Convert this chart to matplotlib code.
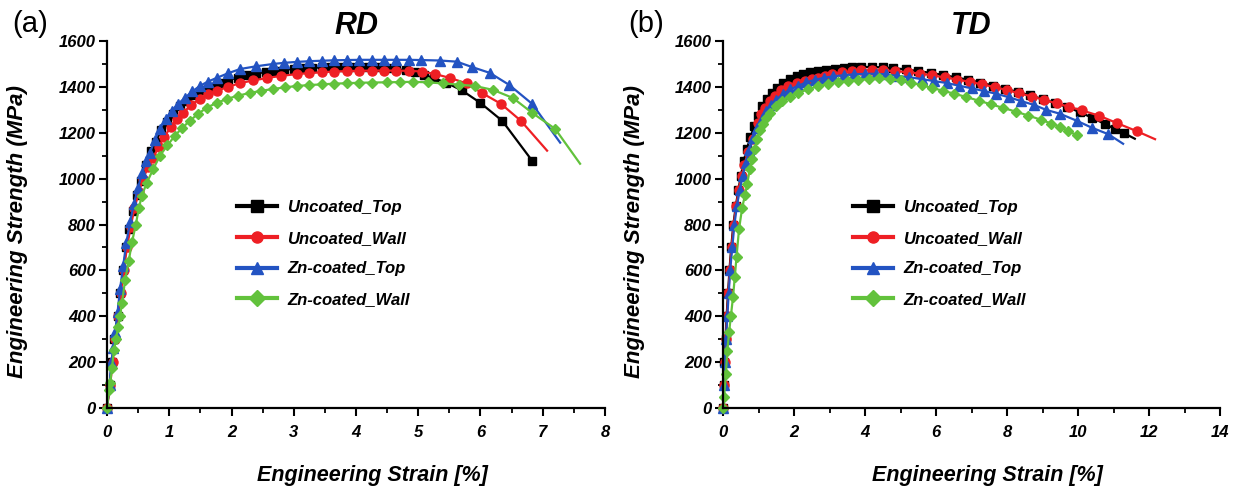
import matplotlib
matplotlib.use("Agg")
import matplotlib.pyplot as plt
from matplotlib.ticker import MultipleLocator

plt.rcParams['font.family'] = ['Liberation Sans', 'DejaVu Sans']

labels = ['Uncoated_Top', 'Uncoated_Wall', 'Zn-coated_Top', 'Zn-coated_Wall']

# ---- RD data (strain %, stress MPa)
rd_top_x = [0, 0.04, 0.08, 0.12, 0.17, 0.21, 0.26, 0.31, 0.36, 0.42, 0.48, 0.55, 0.62, 0.70, 0.78, 0.87,
            0.96, 1.06, 1.17, 1.28, 1.40, 1.52, 1.65, 1.80, 1.95, 2.10, 2.25, 2.40, 2.55, 2.70, 2.85, 3.00,
            3.15, 3.30, 3.45, 3.60, 3.75, 3.90, 4.05, 4.20, 4.35, 4.50, 4.65, 4.80, 4.95, 5.10, 5.25, 5.45,
            5.70, 6.00, 6.35, 6.83]
rd_top_y = [0, 100, 200, 300, 400, 500, 600, 700, 780, 860, 930, 990, 1060, 1120, 1160, 1210,
            1245, 1280, 1315, 1340, 1365, 1385, 1400, 1418, 1430, 1440, 1450, 1458, 1465, 1470, 1475, 1478,
            1481, 1483, 1485, 1486, 1487, 1487, 1487, 1486, 1485, 1482, 1478, 1472, 1465, 1452, 1438, 1418,
            1385, 1330, 1252, 1078]

rd_wall_x = [0, 0.05, 0.09, 0.13, 0.18, 0.22, 0.27, 0.32, 0.38, 0.44, 0.51, 0.58, 0.66, 0.74, 0.83, 0.92,
             1.02, 1.12, 1.22, 1.35, 1.49, 1.62, 1.76, 1.95, 2.14, 2.35, 2.57, 2.80, 3.05, 3.25, 3.45, 3.65,
             3.85, 4.05, 4.25, 4.45, 4.65, 4.85, 5.06, 5.27, 5.51, 5.78, 6.02, 6.33, 6.65, 7.07]
rd_wall_y = [0, 100, 200, 300, 400, 500, 600, 700, 790, 870, 940, 1000, 1050, 1090, 1140, 1180,
             1225, 1260, 1287, 1320, 1348, 1367, 1383, 1400, 1417, 1428, 1439, 1448, 1456, 1460, 1464, 1467,
             1469, 1470, 1471, 1471, 1471, 1470, 1467, 1456, 1439, 1415, 1374, 1326, 1252, 1122]

rd_zntop_x = [0, 0.04, 0.07, 0.10, 0.13, 0.17, 0.21, 0.26, 0.31, 0.37, 0.43, 0.50, 0.56, 0.63, 0.69, 0.77,
              0.85, 0.94, 1.04, 1.14, 1.25, 1.37, 1.49, 1.62, 1.76, 1.95, 2.14, 2.40, 2.67, 2.85, 3.05, 3.25,
              3.45, 3.65, 3.85, 4.05, 4.25, 4.45, 4.65, 4.85, 5.05, 5.35, 5.62, 5.86, 6.15, 6.46, 6.83, 7.28]
rd_zntop_y = [0, 100, 200, 260, 330, 420, 520, 620, 720, 810, 890, 960, 1026, 1075, 1113, 1170,
              1217, 1260, 1296, 1325, 1352, 1380, 1404, 1423, 1439, 1460, 1478, 1490, 1500, 1505, 1509, 1512,
              1514, 1516, 1517, 1518, 1518, 1518, 1518, 1518, 1517, 1515, 1510, 1487, 1461, 1409, 1326, 1157]

rd_znwall_x = [0, 0.03, 0.05, 0.08, 0.11, 0.14, 0.18, 0.21, 0.24, 0.29, 0.35, 0.40, 0.46, 0.51, 0.56, 0.64,
               0.74, 0.85, 0.97, 1.09, 1.21, 1.33, 1.46, 1.60, 1.76, 1.93, 2.11, 2.30, 2.48, 2.67, 2.86, 3.05,
               3.25, 3.45, 3.65, 3.85, 4.05, 4.25, 4.50, 4.70, 4.92, 5.15, 5.40, 5.65, 5.91, 6.20, 6.52, 6.83,
               7.20, 7.60]
rd_znwall_y = [0, 80, 109, 174, 252, 300, 352, 400, 457, 557, 643, 722, 796, 870, 926, 983,
               1040, 1100, 1145, 1187, 1222, 1252, 1282, 1309, 1330, 1348, 1362, 1374, 1383, 1391, 1398, 1404,
               1408, 1411, 1414, 1416, 1418, 1419, 1420, 1421, 1422, 1420, 1415, 1410, 1404, 1387, 1352, 1287,
               1217, 1065]

# ---- TD data
td_top_x = [0, 0.02, 0.04, 0.07, 0.10, 0.14, 0.18, 0.23, 0.29, 0.36, 0.43, 0.50, 0.58, 0.67, 0.77, 0.88,
            0.99, 1.11, 1.24, 1.38, 1.52, 1.70, 1.89, 2.07, 2.25, 2.46, 2.68, 2.90, 3.15, 3.40, 3.63, 3.90,
            4.20, 4.50, 4.80, 5.15, 5.50, 5.85, 6.20, 6.55, 6.90, 7.25, 7.60, 7.95, 8.30, 8.65, 9.00, 9.35,
            9.70, 10.05, 10.40, 10.76, 11.05, 11.30, 11.60]
td_top_y = [0, 100, 200, 300, 400, 500, 600, 700, 800, 880, 950, 1010, 1075, 1130, 1180, 1230,
            1274, 1315, 1348, 1375, 1396, 1418, 1435, 1447, 1456, 1464, 1470, 1475, 1479, 1482, 1485, 1487,
            1487, 1485, 1482, 1476, 1469, 1461, 1452, 1442, 1431, 1419, 1406, 1392, 1378, 1363, 1347, 1330,
            1312, 1290, 1265, 1238, 1216, 1198, 1174]

td_wall_x = [0, 0.02, 0.05, 0.08, 0.11, 0.15, 0.19, 0.24, 0.30, 0.37, 0.44, 0.52, 0.60, 0.70, 0.85, 0.99,
             1.08, 1.18, 1.32, 1.46, 1.64, 1.83, 2.07, 2.31, 2.50, 2.68, 2.88, 3.07, 3.35, 3.63, 3.90, 4.20,
             4.50, 4.85, 5.20, 5.55, 5.90, 6.25, 6.60, 6.95, 7.30, 7.65, 8.00, 8.35, 8.70, 9.05, 9.40, 9.75,
             10.10, 10.60, 11.10, 11.67, 12.17]
td_wall_y = [0, 100, 200, 300, 400, 500, 600, 700, 800, 880, 950, 1010, 1060, 1115, 1174, 1243,
             1280, 1309, 1337, 1361, 1385, 1404, 1417, 1426, 1433, 1439, 1448, 1456, 1463, 1468, 1472, 1473,
             1472, 1469, 1464, 1458, 1450, 1441, 1432, 1422, 1411, 1399, 1386, 1372, 1358, 1343, 1328, 1313,
             1298, 1274, 1242, 1206, 1172]

td_zntop_x = [0, 0.02, 0.05, 0.08, 0.12, 0.16, 0.20, 0.26, 0.32, 0.39, 0.47, 0.55, 0.64, 0.74, 0.85, 0.97,
              1.09, 1.22, 1.36, 1.50, 1.70, 1.90, 2.12, 2.35, 2.60, 2.85, 3.10, 3.40, 3.70, 4.00, 4.30, 4.60,
              4.90, 5.25, 5.60, 5.95, 6.30, 6.65, 7.00, 7.35, 7.70, 8.05, 8.40, 8.75, 9.10, 9.49, 9.97, 10.39,
              10.85, 11.27]
td_zntop_y = [0, 100, 200, 300, 400, 500, 600, 700, 800, 880, 950, 1010, 1070, 1125, 1175, 1220,
              1260, 1293, 1322, 1345, 1370, 1390, 1405, 1420, 1431, 1440, 1446, 1451, 1455, 1457, 1457, 1455,
              1448, 1442, 1434, 1425, 1417, 1405, 1394, 1382, 1370, 1355, 1338, 1322, 1300, 1283, 1252, 1222,
              1194, 1152]

td_znwall_x = [0, 0.03, 0.08, 0.12, 0.17, 0.22, 0.28, 0.33, 0.38, 0.45, 0.54, 0.62, 0.68, 0.75, 0.82, 0.89,
               0.96, 1.05, 1.13, 1.22, 1.32, 1.48, 1.66, 1.88, 2.11, 2.40, 2.68, 2.96, 3.24, 3.52, 3.80, 4.10,
               4.40, 4.70, 5.00, 5.30, 5.60, 5.90, 6.20, 6.50, 6.85, 7.20, 7.55, 7.90, 8.25, 8.60, 8.95, 9.25,
               9.49, 9.72, 9.97]
td_znwall_y = [0, 50, 150, 250, 330, 400, 483, 570, 660, 780, 874, 930, 975, 1040, 1087, 1130,
               1174, 1210, 1239, 1265, 1287, 1315, 1339, 1358, 1374, 1390, 1404, 1412, 1420, 1426, 1430, 1435,
               1437, 1434, 1428, 1418, 1407, 1395, 1383, 1371, 1356, 1340, 1324, 1308, 1292, 1275, 1257, 1240,
               1226, 1208, 1189]

colors = ['#000000', '#ee1f24', '#2353c2', '#62c23c']
markers = ['s', 'o', '^', 'D']
msizes = [6, 6.5, 7, 5.5]

panels = [
    dict(tag='(a)', title='RD', xmax=8, xstep=1,
         data=[(rd_top_x, rd_top_y), (rd_wall_x, rd_wall_y), (rd_zntop_x, rd_zntop_y), (rd_znwall_x, rd_znwall_y)],
         end_marker=[True, False, False, False], rect=[0.0861, 0.1724, 0.4006, 0.7444]),
    dict(tag='(b)', title='TD', xmax=14, xstep=2,
         data=[(td_top_x, td_top_y), (td_wall_x, td_wall_y), (td_zntop_x, td_zntop_y), (td_znwall_x, td_znwall_y)],
         end_marker=[False, False, False, True], rect=[0.5817, 0.1724, 0.3998, 0.7444]),
]

fig = plt.figure(figsize=(12.43, 4.93), dpi=100)
bi = dict(fontweight='bold', fontstyle='italic')

for p in panels:
    ax = fig.add_axes(p['rect'])
    for i, (x, y) in enumerate(p['data']):
        n = len(x)
        every = slice(0, n) if p['end_marker'][i] else slice(0, n - 1)
        ax.plot(x, y, color=colors[i], marker=markers[i], markersize=msizes[i], markevery=every,
                linewidth=1.6, label=labels[i], clip_on=False)
    ax.set_xlim(0, p['xmax'])
    ax.set_ylim(0, 1600)
    ax.xaxis.set_major_locator(MultipleLocator(p['xstep']))
    ax.xaxis.set_minor_locator(MultipleLocator(p['xstep'] / 2))
    ax.yaxis.set_major_locator(MultipleLocator(200))
    ax.yaxis.set_minor_locator(MultipleLocator(100))
    for s in ['top', 'right']:
        ax.spines[s].set_visible(False)
    for s in ['left', 'bottom']:
        ax.spines[s].set_linewidth(1.6)
    ax.tick_params(which='major', direction='out', length=6, width=1.5, labelsize=12)
    ax.tick_params(axis='x', which='major', pad=6)
    ax.tick_params(axis='y', which='major', pad=2)
    ax.tick_params(which='minor', direction='out', length=3.5, width=1.3)
    for t in ax.get_xticklabels() + ax.get_yticklabels():
        t.set_fontweight('bold')
        t.set_fontstyle('italic')
    ax.set_ylabel('Engineering Strength (MPa)', fontsize=16, **bi)
    ax.yaxis.set_label_coords(-0.158, 0.48)
    ax.set_xlabel('Engineering Strain [%]', fontsize=15.5, **bi)
    ax.xaxis.set_label_coords(0.532, -0.155)
    ax.set_title(p['title'], fontsize=22, pad=4, **bi)
    ax.text(-0.19, 1.025, p['tag'], transform=ax.transAxes, fontsize=21)
    leg = ax.legend(loc='upper left', bbox_to_anchor=(0.245, 0.59), frameon=False,
                    handlelength=2.4, labelspacing=0.95, handletextpad=0.6, borderpad=0,
                    prop=dict(family='Liberation Sans', weight='bold', style='italic', size=12))
    for h in leg.legend_handles:
        h.set_linewidth(3)
        h.set_markersize(8)

fig.savefig('out.png', dpi=100)
